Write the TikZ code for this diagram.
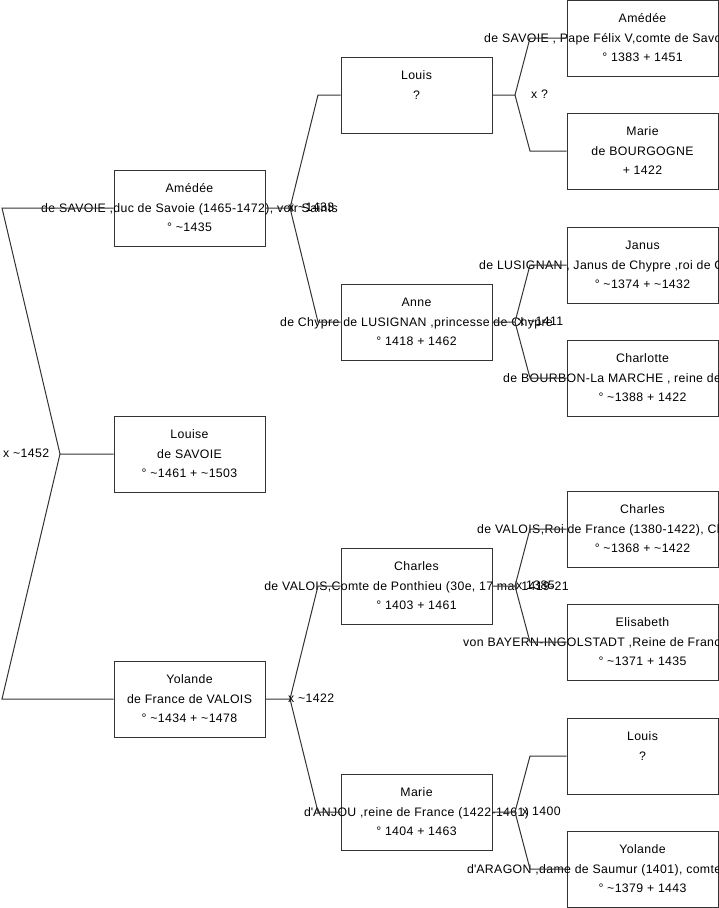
\documentclass[tikz,border=0pt]{standalone}
\usepackage{fontspec}
\setmainfont{Liberation Sans}[LetterSpace=3]
\newcommand\tld{\textasciitilde}
\newcommand\apo{\textquotesingle}
\tikzset{
  pbox/.style={draw=black!80, line width=1pt, minimum width=151pt, minimum height=76pt, inner sep=0pt},
  txt/.style={anchor=base, inner sep=0pt, font=\fontsize{12.3}{14}\selectfont, text=black},
  txtw/.style={anchor=base west, inner sep=0pt, font=\fontsize{12.3}{14}\selectfont, text=black},
  link/.style={draw=black!80, line width=1pt},
}
% name, left, top, line1, line2, line3
\newcommand\person[6]{%
  \node[pbox] (#1) at ({#2+75.5},{#3+38}) {};
  \node[txt] at ({#2+75.5},{#3+22.5}) {#4};
  \node[txt] at ({#2+75.5},{#3+42}) {#5};
  \node[txt] at ({#2+75.5},{#3+61.5}) {#6};
}
% name, left, top, line1, line2 start x, line2, line3
\newcommand\personw[7]{%
  \node[pbox] (#1) at ({#2+75.5},{#3+38}) {};
  \node[txt] at ({#2+75.5},{#3+22.5}) {#4};
  \node[txtw] at ({#5},{#3+42}) {#6};
  \node[txt] at ({#2+75.5},{#3+61.5}) {#7};
}
\begin{document}
\begin{tikzpicture}[x=1pt,y=-1pt]
\useasboundingbox[fill=white] (0,0) rectangle (719,908);
% generation 1
\person{amedee}{114}{170}{Amédée}{de SAVOIE ,duc de Savoie (1465-1472), voir Saints}{° \tld1435}
\person{louise}{114}{416}{Louise}{de SAVOIE}{° \tld1461 + \tld1503}
\person{yolande}{114}{661}{Yolande}{de France de VALOIS}{° \tld1434 + \tld1478}
% generation 2
\person{louis}{341}{57}{Louis}{?}{}
\person{anne}{341}{284}{Anne}{de Chypre de LUSIGNAN ,princesse de Chypre}{° 1418 + 1462}
\person{charles}{341}{548}{Charles}{de VALOIS,Comte de Ponthieu (30e, 17 mai 1419-21}{° 1403 + 1461}
\person{marie}{341}{774}{Marie}{d\apo ANJOU ,reine de France (1422-1461)}{° 1404 + 1463}
% generation 3
\personw{amedeeb}{567}{0}{Amédée}{484}{de SAVOIE , Pape Félix V,comte de Savoie}{° 1383 + 1451}
\person{marieb}{567}{113}{Marie}{de BOURGOGNE}{+ 1422}
\personw{janus}{567}{227}{Janus}{479}{de LUSIGNAN , Janus de Chypre ,roi de Chypre}{° \tld1374 + \tld1432}
\personw{charlotte}{567}{340}{Charlotte}{503}{de BOURBON-La MARCHE , reine de Chypre}{° \tld1388 + 1422}
\personw{charlesb}{567}{491}{Charles}{477}{de VALOIS,Roi de France (1380-1422), Charles VI}{° \tld1368 + \tld1422}
\personw{elisabeth}{567}{604}{Elisabeth}{463}{von BAYERN-INGOLSTADT ,Reine de France}{° \tld1371 + 1435}
\person{louisb}{567}{718}{Louis}{?}{}
\personw{yolandeb}{567}{831}{Yolande}{467}{d\apo ARAGON ,dame de Saumur (1401), comtesse}{° \tld1379 + 1443}
% fork coordinates
\coordinate (f0) at (60,454);  \coordinate (f0u) at (2,208);   \coordinate (f0d) at (2,699);
\coordinate (f1) at (290,208); \coordinate (f1u) at (318,95);  \coordinate (f1d) at (318,322);
\coordinate (f2) at (290,699); \coordinate (f2u) at (318,586); \coordinate (f2d) at (318,812);
\coordinate (f3) at (515,95);  \coordinate (f3u) at (530,38);  \coordinate (f3d) at (530,151);
\coordinate (f4) at (515,322); \coordinate (f4u) at (530,265); \coordinate (f4d) at (530,378);
\coordinate (f5) at (515,586); \coordinate (f5u) at (530,529); \coordinate (f5d) at (530,642);
\coordinate (f6) at (515,812); \coordinate (f6u) at (530,756); \coordinate (f6d) at (530,869);
% connectors
\draw[link] (louise.west) -- (f0) -- (f0u) -- (amedee.west);
\draw[link] (f0) -- (f0d) -- (yolande.west);
\draw[link] (amedee.east) -- (f1) -- (f1u) -- (louis.west);
\draw[link] (f1) -- (f1d) -- (anne.west);
\draw[link] (yolande.east) -- (f2) -- (f2u) -- (charles.west);
\draw[link] (f2) -- (f2d) -- (marie.west);
\draw[link] (louis.east) -- (f3) -- (f3u) -- (amedeeb.west);
\draw[link] (f3) -- (f3d) -- (marieb.west);
\draw[link] (anne.east) -- (f4) -- (f4u) -- (janus.west);
\draw[link] (f4) -- (f4d) -- (charlotte.west);
\draw[link] (charles.east) -- (f5) -- (f5u) -- (charlesb.west);
\draw[link] (f5) -- (f5d) -- (elisabeth.west);
\draw[link] (marie.east) -- (f6) -- (f6u) -- (louisb.west);
\draw[link] (f6) -- (f6d) -- (yolandeb.west);
% marriage labels
\node[txtw] (m0) at (3,457) {x \tld1452};
\node[txtw] (m1) at (288,211) {x \tld1433};
\node[txtw] (m2) at (288,702) {x \tld1422};
\node[txtw] (m3) at (531,98) {x ?};
\node[txtw] (m4) at (518,325) {x \tld1411};
\node[txtw] (m5) at (516,589) {x 1385};
\node[txtw] (m6) at (522,815) {x 1400};
\end{tikzpicture}
\end{document}
